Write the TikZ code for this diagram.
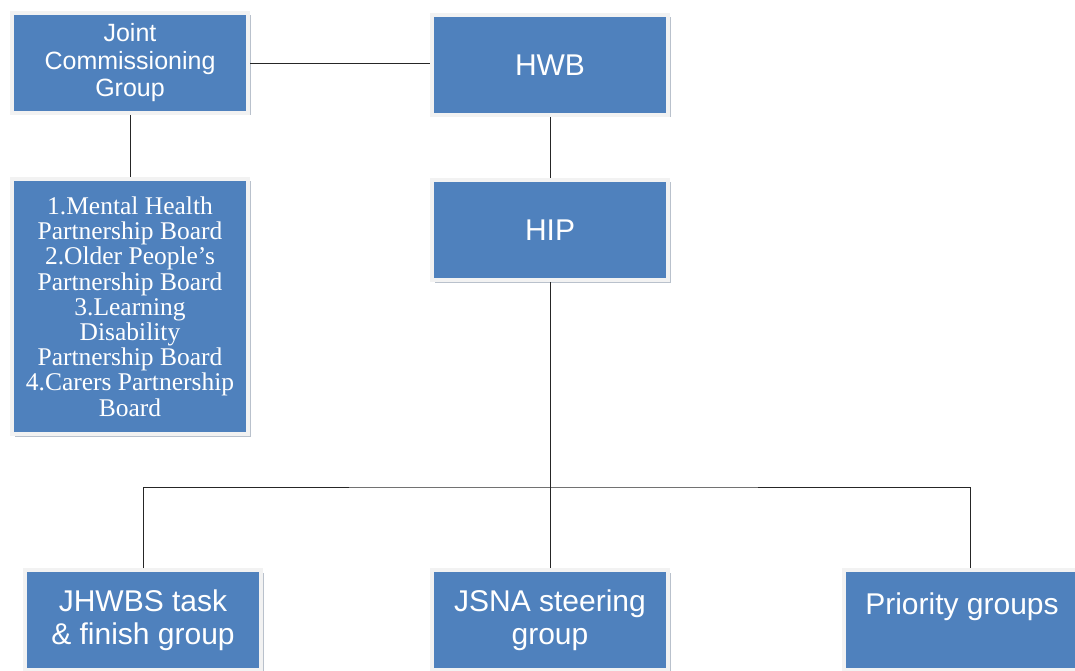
\documentclass[tikz,border=0pt]{standalone}
\usepackage{fontspec}
\setmainfont{Liberation Sans}
\newfontfamily\listfont{Liberation Serif}
\usetikzlibrary{shadows}
\definecolor{boxblue}{HTML}{4F81BD}
\definecolor{boxframe}{HTML}{F2F2F2}
\definecolor{boxshade}{HTML}{B9C1CC}
\begin{document}
\begin{tikzpicture}[x=1pt,y=-1pt,
    group/.style={draw=boxframe, line width=4pt, fill=boxblue, text=white,
      minimum width=236pt, minimum height=100pt, align=center, inner sep=0pt,
      drop shadow={shadow xshift=2.5pt, shadow yshift=-2.5pt, fill=boxshade, opacity=1}},
    link/.style={line width=0.9pt, color=black!85}]
  \useasboundingbox (0,0) rectangle (1075,671);

  \node [group, font=\fontsize{25}{27.5}\selectfont] (jcg) at (130,63) {Joint\\Commissioning\\Group};
  \node [group, font=\fontsize{30}{32}\selectfont] (hwb) at (550,65) {HWB};
  \node [group, font=\fontsize{30}{32}\selectfont] (hip) at (550,230) {HIP};
  \node [group, minimum height=255pt, font=\listfont\fontsize{25.5}{25.2}\selectfont] (boards) at (130,306.5)
    {1.Mental Health\\Partnership Board\\2.Older People’s\\Partnership Board\\3.Learning\\Disability\\Partnership Board\\4.Carers Partnership\\Board};

  \node [group, font=\fontsize{30}{33}\selectfont] (jhwbs) at (143,620) {JHWBS task\\\& finish group};
  \node [group, font=\fontsize{30}{33}\selectfont] (jsna) at (550,620) {JSNA steering\\group};
  \node [group, font=\fontsize{30}{33}\selectfont] (prio) at (962,620) {Priority groups\\\mbox{}};

  \coordinate (bus) at (550,487);

  \draw [link] (jcg.east) -- (hwb.west |- jcg.east);
  \draw [link] (jcg.south) -- (boards.north);
  \draw [link] (hwb.south) -- (hip.north);
  \draw [link] (hip.south) -- (jsna.north);
  \draw [link] (jhwbs.north) |- (bus) -| ([xshift=8pt]prio.north);

\end{tikzpicture}
\end{document}
